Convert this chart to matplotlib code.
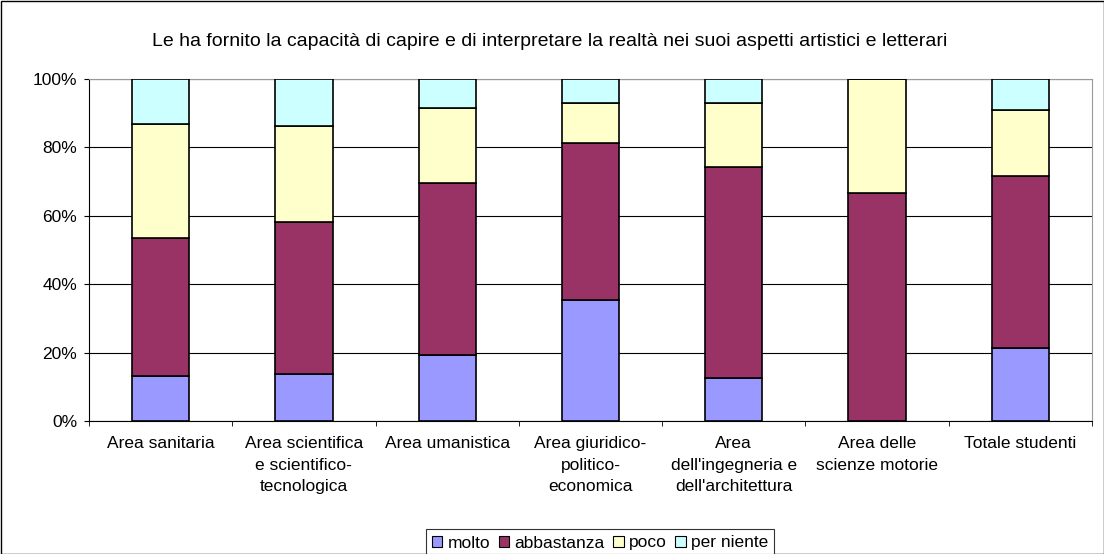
import matplotlib
matplotlib.use("Agg")
import matplotlib.pyplot as plt
from matplotlib.patches import Rectangle
import numpy as np

plt.rcParams['font.family'] = ['Liberation Sans', 'DejaVu Sans']

categories = ["Area sanitaria", "Area scientifica\ne scientifico-\ntecnologica", "Area umanistica",
              "Area giuridico-\npolitico-\neconomica", "Area\ndell'ingegneria e\ndell'architettura",
              "Area delle\nscienze motorie", "Totale studenti"]
molto = [13.2, 13.7, 19.3, 35.5, 12.7, 0.0, 21.3]
abbastanza = [40.3, 44.5, 50.3, 45.9, 61.6, 66.8, 50.2]
poco = [33.2, 28.0, 21.8, 11.5, 18.6, 33.2, 19.5]
per_niente = [13.3, 13.8, 8.6, 7.1, 7.1, 0.0, 9.0]
series_names = ["molto", "abbastanza", "poco", "per niente"]
colors = ["#9999FF", "#993366", "#FFFFCC", "#CCFFFF"]
title = "Le ha fornito la capacità di capire e di interpretare la realtà nei suoi aspetti artistici e letterari"

fig = plt.figure(figsize=(11.04, 5.54), dpi=100)
ax = fig.add_axes([89/1104, 1-421/554, (1092-89)/1104, (421-79)/554])

x = np.arange(len(categories))
bottom = np.zeros(len(categories))
for vals, name, col in zip([molto, abbastanza, poco, per_niente], series_names, colors):
    v = np.array(vals)
    ax.bar(x, v, 0.4, bottom=bottom, color=col, edgecolor="black", linewidth=1.2, label=name, zorder=3)
    bottom += v

ax.set_xlim(-0.5, len(categories) - 0.5)
ax.set_ylim(0, 100)
ax.set_yticks(np.arange(0, 101, 20))
ax.set_yticklabels([f"{v}%" for v in range(0, 101, 20)], fontsize=12.5)
ax.yaxis.grid(True, color="black", linewidth=0.8, zorder=0)
ax.set_xticks(x)
ax.set_xticklabels(categories, fontsize=12.5, linespacing=1.55, va="top")
ax.tick_params(axis="x", length=0, pad=11)
ax.set_xticks(np.arange(-0.5, len(categories)), minor=True)
ax.tick_params(axis="x", which="minor", length=3.6, direction="out")
ax.tick_params(axis="y", length=3.6, direction="out", pad=5)
for s in ["top", "right"]:
    ax.spines[s].set_color("#999999")
ax.spines["left"].set_color("black")
ax.spines["bottom"].set_color("black")

fig.text(550/1104, 1-41/554, title, ha="center", va="center", fontsize=14)

leg = fig.legend(loc="center", bbox_to_anchor=(600/1104, 1-543/554), ncol=4, fontsize=12.5,
                 frameon=True, fancybox=False, edgecolor="black", handlelength=0.6, handleheight=0.6,
                 handletextpad=0.3, columnspacing=0.5, borderpad=0.35)
leg.get_frame().set_linewidth(0.8)
for h in leg.legend_handles:
    h.set_linewidth(0.8)

fig.patches.append(Rectangle((0.5/1104, 0.5/554), 1-1/1104, 1-1/554, transform=fig.transFigure,
                             fill=False, edgecolor="black", linewidth=1))

fig.savefig("out.png", dpi=100)
